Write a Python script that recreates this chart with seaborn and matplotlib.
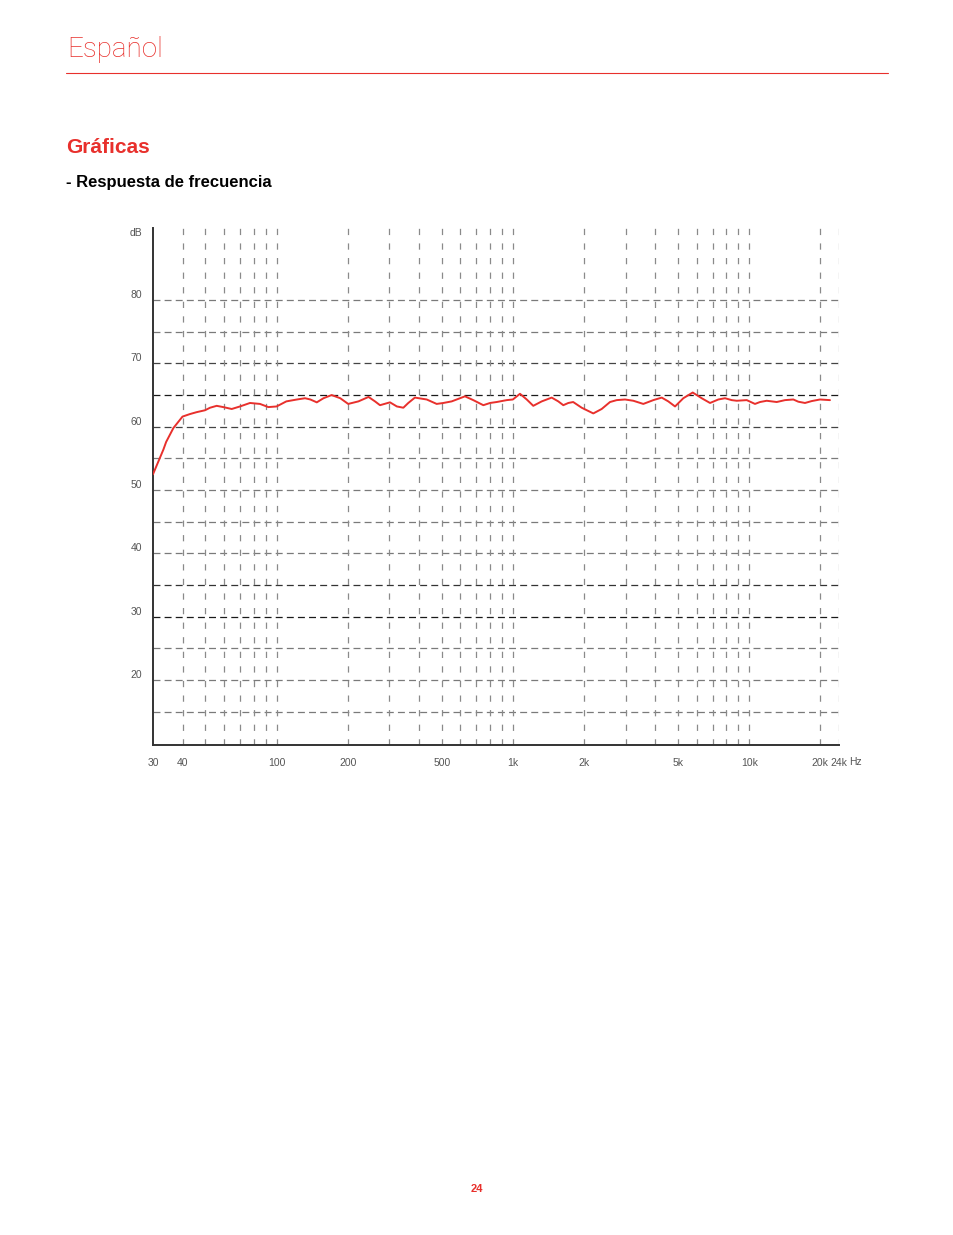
import pandas as pd
import seaborn as sns
import matplotlib
matplotlib.use("Agg")
import matplotlib.pyplot as plt

# frequency response
freq_hz = [30, 33.2, 34.1, 36.6, 40, 43, 45.9, 49.8, 52.3, 55.8, 59.5, 64.6, 70, 77.2,
           85.1, 92.3, 100, 110, 122, 132, 139, 148, 158, 171, 186, 201, 222, 245, 261,
           274, 302, 323, 344, 361, 385, 432, 476, 508, 551, 588, 627, 680, 750, 801,
           854, 942, 1000, 1072, 1145, 1220, 1325, 1460, 1557, 1635, 1717, 1800, 1956,
           2190, 2376, 2577, 2751, 2983, 3234, 3565, 3930, 4266, 4548, 4857, 5265,
           5770, 6297, 6830, 7404, 7905, 8436, 8860, 9765, 10585, 11115, 11865, 13080,
           14185, 15380, 16146, 17230, 18400, 19940, 21980]
level_db = [52.5, 56.4, 57.6, 59.8, 61.6, 62.0, 62.3, 62.6, 63.0, 63.3, 63.1, 62.8, 63.2, 63.75,
            63.6, 63.1, 63.2, 64.0, 64.3, 64.5, 64.3, 63.85, 64.5, 65.0, 64.5, 63.6, 64.0, 64.7, 64.0,
            63.4, 63.85, 63.2, 63.0, 63.75, 64.6, 64.3, 63.6, 63.75, 64.0, 64.4, 64.8, 64.2, 63.4, 63.75,
            63.9, 64.2, 64.3, 65.2, 64.3, 63.3, 64.0, 64.6, 64.0, 63.4, 63.75, 63.9, 63.0,
            62.1, 62.8, 63.9, 64.2, 64.3, 64.1, 63.6, 64.2, 64.6, 64.0, 63.2, 64.5,
            65.4, 64.5, 63.75, 64.3, 64.5, 64.2, 64.1, 64.2, 63.6, 63.9, 64.1, 63.9,
            64.2, 64.3, 63.95, 63.75, 64.05, 64.3, 64.2]

x_ticks = [30, 40, 100, 200, 500, 1000, 2000, 5000, 10000, 20000, 24000]
x_labels = ["30", "40", "100", "200", "500", "1k", "2k", "5k", "10k", "20k", "24k"]
x_grid = [40, 50, 60, 70, 80, 90, 100, 200, 300, 400, 500, 600, 700, 800, 900,
          1000, 2000, 3000, 4000, 5000, 6000, 7000, 8000, 9000, 10000, 20000, 24000]
y_ticks = [20, 30, 40, 50, 60, 70, 80]
y_grid = [15, 20, 25, 30, 35, 40, 45, 50, 55, 60, 65, 70, 75, 80]

RED = "#e8302c"

sns.set_style("white")
plt.rcParams["lines.scale_dashes"] = False
plt.rcParams["font.family"] = ["Liberation Sans", "DejaVu Sans"]

fig = plt.figure(figsize=(9.54, 12.35), dpi=100)

# page header
fig.text(67 / 954, 1 - 57 / 1235, "Español", color=RED, fontsize=20,
         family=["Roboto", "DejaVu Sans"], fontweight="light", va="baseline")
fig.add_artist(plt.Line2D([66 / 954, 888 / 954], [1 - 73 / 1235] * 2,
                          color=RED, lw=0.8))
fig.text(66 / 954, 1 - 153 / 1235, "Gráficas", color=RED, fontsize=15,
         fontweight="bold", va="baseline")
fig.text(66 / 954, 1 - 187 / 1235, "- Respuesta de frecuencia", color="black",
         fontsize=12, fontweight="bold", va="baseline")
fig.text(0.5, 1 - 1192 / 1235, "24", color=RED, fontsize=8, fontweight="bold",
         ha="center")

ax = fig.add_axes([153 / 954, 1 - 745 / 1235, 686 / 954, 517 / 1235])
df = pd.DataFrame({"freq": freq_hz, "db": level_db})
sns.lineplot(data=df, x="freq", y="db", ax=ax, color=RED, lw=1.4, zorder=5)

ax.set_xscale("log")
ax.set_xlim(30, 24000)
ax.set_ylim(9.76, 91.37)

# grid drawn by hand to get the uneven dash shades
dark = {30: "#1a1a1a", 65: "#1a1a1a", 35: "#333333", 70: "#444444", 60: "#444444"}
for v in y_grid:
    ax.axhline(v, color=dark.get(v, "#7a7a7a"), lw=0.9, ls=(0, (5, 3)), zorder=1)
for v in x_grid:
    c = "#a8a8a8" if v == 24000 else "#8a8a8a"
    ax.axvline(v, color=c, lw=0.9, ls=(0, (4.5, 6)), zorder=1)

ax.set_xticks(x_ticks)
ax.set_xticklabels(x_labels)
ax.minorticks_off()
ax.set_yticks(y_ticks)
ax.set_yticklabels([str(t) for t in y_ticks])
ax.tick_params(length=0, labelsize=7.5, labelcolor="#555555")
ax.tick_params(axis="x", pad=9)
ax.tick_params(axis="y", pad=8)
for lab in ax.get_yticklabels():
    lab.set_va("bottom")

ax.annotate("dB", xy=(0, 1), xycoords="axes fraction", xytext=(-12, -3.6),
            textcoords="offset points", ha="center", va="center",
            fontsize=7.5, color="#555555")
ax.annotate("Hz", xy=(1, 0), xycoords="axes fraction", xytext=(7.5, -12),
            textcoords="offset points", ha="left", va="center",
            fontsize=7.5, color="#555555")

ax.set_xlabel("")
ax.set_ylabel("")
for s in ["top", "right"]:
    ax.spines[s].set_visible(False)
for s in ["left", "bottom"]:
    ax.spines[s].set_color("#333333")
    ax.spines[s].set_linewidth(1.4)

fig.savefig("out.png", dpi=100)
